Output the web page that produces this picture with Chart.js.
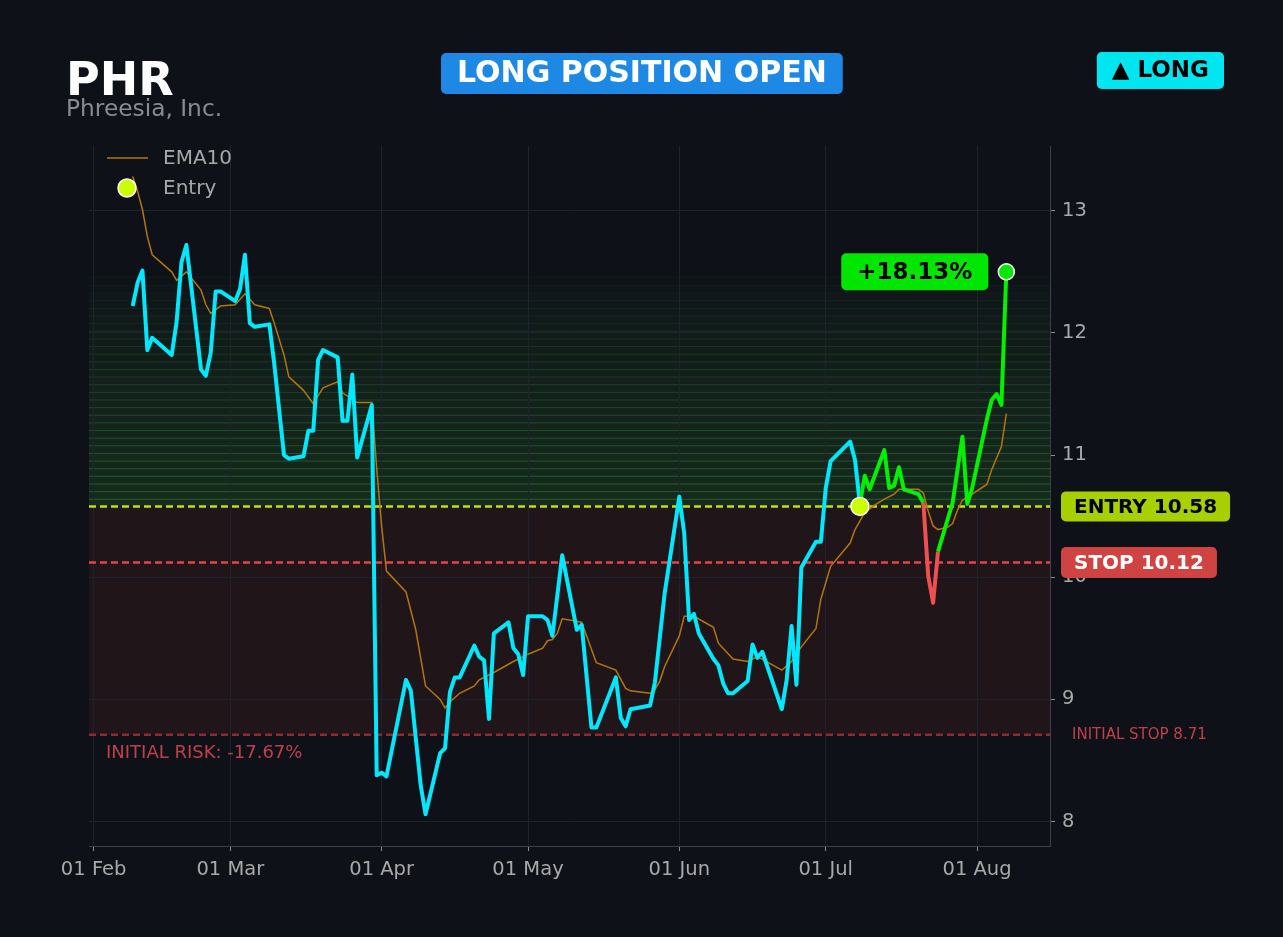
<!DOCTYPE html>
<html>
<head>
<meta charset="utf-8">
<script src="https://cdn.jsdelivr.net/npm/chart.js@4.4.1/dist/chart.umd.min.js"></script>
<style>
html, body { margin: 0; padding: 0; background: #0e1118; }
#wrap { width: 1283px; height: 937px; }
</style>
</head>
<body>
<div id="wrap"><canvas id="chart" width="1283" height="937"></canvas></div>
<script>
// day offsets counted from 01 Feb
var priceDays = [8, 9, 10, 11, 12, 16, 17, 18, 19, 22, 23, 24, 25, 26, 29, 30, 31, 32, 33, 36, 37, 39, 40, 43, 44, 45, 46, 47, 50, 51, 52, 53, 54, 57,
  58, 59, 60, 64, 65, 67, 68, 71, 72, 73, 74, 75, 78, 79, 80, 81, 82, 85, 86, 87, 88, 89, 92, 93, 94, 96, 99, 100, 102, 103, 107, 108, 109, 110, 114, 115, 117,
  120, 121, 122, 123, 124, 127, 128, 129, 130, 131, 134, 135, 136, 137, 141, 142, 143, 144, 145, 148, 149, 150, 151, 155, 156, 157,
  158, 159, 162, 163, 164, 165, 166, 169, 170, 171, 172, 173, 176, 178, 179, 180, 183, 184, 185, 186, 187]
var priceValues = [12.22, 12.41, 12.51, 11.86, 11.96, 11.82, 12.09, 12.58, 12.72, 11.70, 11.65, 11.84, 12.34, 12.34, 12.26, 12.36, 12.64, 12.08, 12.05, 12.07, 11.75, 11.00, 10.97, 10.99, 11.20, 11.20, 11.78, 11.86, 11.80, 11.28, 11.28, 11.66, 10.98, 11.41,
  8.38, 8.40, 8.37, 9.16, 9.07, 8.30, 8.06, 8.56, 8.60, 9.06, 9.18, 9.18, 9.44, 9.35, 9.32, 8.84, 9.54, 9.63, 9.42, 9.37, 9.20, 9.68, 9.68, 9.65, 9.52, 10.18, 9.57, 9.61, 8.77, 8.77, 9.18, 8.85, 8.78, 8.92, 8.95, 9.14, 9.87,
  10.66, 10.36, 9.65, 9.70, 9.54, 9.33, 9.28, 9.13, 9.05, 9.05, 9.15, 9.45, 9.34, 9.39, 8.92, 9.16, 9.60, 9.12, 10.08, 10.29, 10.29, 10.73, 10.95, 11.11, 10.96, 10.60,
  10.83, 10.72, 11.04, 10.73, 10.75, 10.90, 10.72, 10.68, 10.61, 10.01, 9.79, 10.21, 10.61, 11.15, 10.60, 10.73, 11.29, 11.45, 11.50, 11.41, 12.50]

var emaDays = [8, 9, 10, 11, 12, 16, 17, 19, 22, 23, 24, 26, 29, 31, 33, 36, 37, 39, 40, 43, 45, 47, 50, 51, 54, 57, 58, 59, 60,
  64, 66, 68, 71, 72, 73, 75, 78, 79, 82, 86, 89, 92, 93, 94, 95, 96, 99, 100, 103, 107, 109, 110, 114, 115, 116, 117,
  120, 121, 123, 127, 128, 131, 134, 136, 141, 143, 145, 148, 149, 151, 155, 156, 158, 160, 162, 164, 165,
  169, 170, 171, 172, 173, 175, 176, 177, 178, 180, 183, 184, 186, 187]
var emaValues = [13.28, 13.16, 13.01, 12.79, 12.64, 12.50, 12.43, 12.50, 12.35, 12.23, 12.16, 12.22, 12.23, 12.32, 12.23, 12.20, 12.08, 11.82, 11.64, 11.53, 11.42, 11.55, 11.60, 11.51, 11.43, 11.43, 10.89, 10.42, 10.05,
  9.88, 9.57, 9.11, 9.00, 8.93, 8.98, 9.05, 9.11, 9.16, 9.22, 9.31, 9.37, 9.42, 9.48, 9.49, 9.54, 9.66, 9.64, 9.63, 9.30, 9.24, 9.09, 9.07, 9.05, 9.08, 9.15, 9.27,
  9.52, 9.68, 9.68, 9.59, 9.46, 9.33, 9.31, 9.35, 9.24, 9.31, 9.43, 9.58, 9.82, 10.09, 10.28, 10.39, 10.53, 10.59, 10.64, 10.68, 10.72,
  10.72, 10.69, 10.54, 10.42, 10.39, 10.41, 10.44, 10.55, 10.63, 10.68, 10.76, 10.88, 11.07, 11.34]

var entryDay = 157
var entryPrice = 10.58
var stopPrice = 10.12
var initialStop = 8.71
var lastDay = 187
var lastPrice = 12.50

var monthTickDays = [0, 28, 59, 89, 120, 150, 181]
var monthTickLabels = ["01 Feb", "01 Mar", "01 Apr", "01 May", "01 Jun", "01 Jul", "01 Aug"]
var priceTicks = [8, 9, 10, 11, 12, 13]

var bg = [14, 17, 24]
var cyan = '#00e8ff', green = '#00f000', red = '#ec5050', emaColor = '#b3760e'
var font = "'DejaVu Sans', sans-serif"

function pts(xs, ys) {
  return xs.map(function (d, i) { return { x: d, y: ys[i] } })
}

function mix(t, c) {
  return 'rgb(' + [0, 1, 2].map(function (k) { return Math.round(bg[k] + t * (c[k] - bg[k])) }).join(',') + ')'
}

function roundBox(c, x, y, w, h, r, fill) {
  c.fillStyle = fill
  c.beginPath()
  c.roundRect(x, y, w, h, r)
  c.fill()
}

function labelBox(c, text, x, cy, size, pad, h, fill, color, alignRight) {
  c.font = 'bold ' + size + 'px ' + font
  var w = c.measureText(text).width + pad * 2
  var left = alignRight ? x - w : x
  roundBox(c, left, cy - h / 2, w, h, 5, fill)
  c.fillStyle = color
  c.textAlign = 'center'
  c.textBaseline = 'middle'
  c.fillText(text, left + w / 2, cy + 1)
}

var zones = {
  id: 'zones',
  beforeDraw: function (chart) {
    var c = chart.ctx, a = chart.chartArea, y = chart.scales.y
    var w = a.right - a.left
    c.save()
    c.fillStyle = '#0e1118'
    c.fillRect(0, 0, chart.width, chart.height)
    var yE = y.getPixelForValue(entryPrice), yI = y.getPixelForValue(initialStop)
    c.fillStyle = '#201519'
    c.fillRect(a.left, yE, w, yI - yE)
    // fading reward band above entry
    var n = 30, step = 0.0625
    for (var i = 0; i < n; i++) {
      var t = Math.pow(1 - i / n, 0.7)
      var y0 = y.getPixelForValue(entryPrice + i * step)
      var y1 = y.getPixelForValue(entryPrice + (i + 1) * step)
      c.fillStyle = mix(t, [22, 42, 29])
      c.fillRect(a.left, y1, w, y0 - y1)
      c.fillStyle = mix(t, [38, 96, 46])
      c.fillRect(a.left, y1 - 1, w, 2)
    }
    c.restore()
  },
  beforeDatasetsDraw: function (chart) {
    var c = chart.ctx, a = chart.chartArea, y = chart.scales.y
    c.save()
    c.lineWidth = 2.5
    c.setLineDash([7, 4])
    ;[[initialStop, '#8b2c32'], [stopPrice, '#e04646'], [entryPrice, '#c6e000']].forEach(function (l) {
      var py = y.getPixelForValue(l[0])
      c.strokeStyle = l[1]
      c.beginPath()
      c.moveTo(a.left, py)
      c.lineTo(a.right, py)
      c.stroke()
    })
    c.restore()
  },
  afterDraw: function (chart) {
    var c = chart.ctx, a = chart.chartArea, y = chart.scales.y, x = chart.scales.x
    c.save()
    // header
    c.fillStyle = '#ffffff'
    c.textAlign = 'left'
    c.textBaseline = 'alphabetic'
    c.font = 'bold 46px ' + font
    c.fillText('PHR', 66, 95)
    c.fillStyle = '#888b90'
    c.font = '23.3px ' + font
    c.fillText('Phreesia, Inc.', 66, 116)
    labelBox(c, 'LONG POSITION OPEN', 441, 73.5, 30, 16, 41, '#1e88e5', '#ffffff', false)
    labelBox(c, '\u25B2 LONG', 1224, 70.5, 23, 15, 37, '#00e5ef', '#000000', true)

    // legend
    c.strokeStyle = emaColor
    c.lineWidth = 1.5
    c.beginPath()
    c.moveTo(107, 158)
    c.lineTo(148, 158)
    c.stroke()
    c.beginPath()
    c.arc(127, 188, 9, 0, Math.PI * 2)
    c.fillStyle = '#ccff00'
    c.fill()
    c.strokeStyle = '#ffffff'
    c.lineWidth = 1.5
    c.stroke()
    c.fillStyle = '#a8a8a8'
    c.font = '20px ' + font
    c.textBaseline = 'middle'
    c.textAlign = 'left'
    c.fillText('EMA10', 163, 159)
    c.fillText('Entry', 163, 189)

    // level labels on the right
    var yE = y.getPixelForValue(entryPrice), yS = y.getPixelForValue(stopPrice), yI = y.getPixelForValue(initialStop)
    labelBox(c, 'ENTRY 10.58', a.right + 11, yE, 20, 13, 30, '#a8d000', '#000000', false)
    labelBox(c, 'STOP 10.12', a.right + 11, yS, 20, 13, 31, '#d04343', '#ffffff', false)
    c.font = '15px ' + font
    c.fillStyle = '#c0404a'
    c.textAlign = 'left'
    c.textBaseline = 'middle'
    c.fillText('INITIAL STOP 8.71', a.right + 22, yI)
    c.font = '18px ' + font
    c.fillText('INITIAL RISK: -17.67%', a.left + 17, yI + 18)

    // gain label next to last point
    var px = x.getPixelForValue(lastDay), py = y.getPixelForValue(lastPrice)
    labelBox(c, '+18.13%', px - 18, py, 23, 16, 37, '#00e600', '#000000', true)
    c.restore()
  }
}

new Chart(document.getElementById('chart').getContext('2d'), {
  type: 'line',
  data: {
    datasets: [{
      label: 'Price',
      data: pts(priceDays, priceValues),
      borderWidth: 4,
      borderColor: cyan,
      pointRadius: 0,
      tension: 0,
      borderJoinStyle: 'round',
      order: 2,
      segment: {
        borderColor: function (s) {
          if (s.p1.parsed.x <= entryDay) return cyan
          if (Math.min(s.p0.parsed.y, s.p1.parsed.y) < stopPrice) return red
          return green
        }
      }
    }, {
      label: 'EMA10',
      data: pts(emaDays, emaValues),
      borderWidth: 1.5,
      borderColor: emaColor,
      pointRadius: 0,
      tension: 0,
      order: 3
    }, {
      label: 'Entry',
      data: [{ x: entryDay, y: entryPrice }],
      showLine: false,
      pointRadius: 9,
      pointBackgroundColor: '#ccff00',
      pointBorderColor: '#ffffff',
      pointBorderWidth: 1.5,
      order: 1
    }, {
      label: 'Last',
      data: [{ x: lastDay, y: lastPrice }],
      showLine: false,
      pointRadius: 8,
      pointBackgroundColor: '#00e600',
      pointBorderColor: '#ffffff',
      pointBorderWidth: 1.5,
      order: 1
    }]
  },
  options: {
    responsive: false,
    devicePixelRatio: 1,
    animation: false,
    layout: { padding: { left: 89, top: 146, right: 0, bottom: 0 } },
    plugins: { legend: { display: false }, tooltip: { enabled: false } },
    scales: {
      x: {
        type: 'linear',
        min: -0.95,
        max: 195.95,
        afterFit: function (s) { s.height = 91 },
        afterBuildTicks: function (s) { s.ticks = monthTickDays.map(function (v) { return { value: v } }) },
        grid: { color: '#1f232b', tickColor: '#8a8a8a', tickLength: 5 },
        border: { display: true, color: '#3c4048' },
        ticks: {
          color: '#a9a9a9',
          font: { family: font, size: 19.5 },
          padding: 7,
          maxRotation: 0,
          autoSkip: false,
          callback: function (v) { return monthTickLabels[monthTickDays.indexOf(v)] }
        }
      },
      y: {
        position: 'right',
        min: 7.8,
        max: 13.53,
        afterFit: function (s) { s.width = 233 },
        afterBuildTicks: function (s) { s.ticks = priceTicks.map(function (v) { return { value: v } }) },
        grid: { color: '#1f232b', tickColor: '#8a8a8a', tickLength: 5 },
        border: { display: true, color: '#3c4048' },
        ticks: {
          color: '#a9a9a9',
          font: { family: font, size: 19.5 },
          padding: 7
        }
      }
    }
  },
  plugins: [zones]
})
</script>
</body>
</html>
